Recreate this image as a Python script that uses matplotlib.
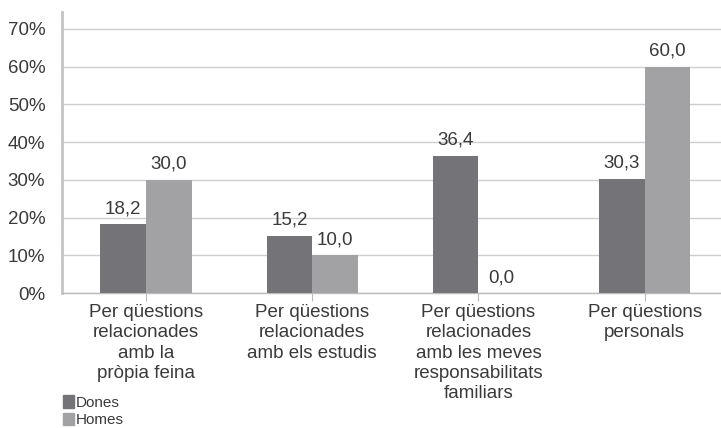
import numpy as np
import matplotlib.pyplot as plt
from matplotlib.patches import Patch

plt.rcParams['font.family'] = ['Liberation Sans', 'DejaVu Sans']

categories = ['Per qüestions\nrelacionades\namb la\npròpia feina',
              'Per qüestions\nrelacionades\namb els estudis',
              'Per qüestions\nrelacionades\namb les meves\nresponsabilitats\nfamiliars',
              'Per qüestions\npersonals']
dones = [18.2, 15.2, 36.4, 30.3]
homes = [30.0, 10.0, 0.0, 60.0]
series_names = ['Dones', 'Homes']
yticks = [0, 10, 20, 30, 40, 50, 60, 70]

col_dones = '#747478'
col_homes = '#a2a2a5'
txt = '#3a3a3a'

fig = plt.figure(figsize=(7.21, 4.28), dpi=100)
ax = fig.add_axes([62 / 721, 135 / 428, 659 / 721, 281 / 428])

x = np.arange(len(categories))
w = 0.275
b1 = ax.bar(x - w / 2, dones, w, color=col_dones, zorder=3)
b2 = ax.bar(x + w / 2, homes, w, color=col_homes, zorder=3)

for bars, vals in [(b1, dones), (b2, homes)]:
    for r, v in zip(bars, vals):
        ax.annotate(f'{v:.1f}'.replace('.', ','),
                    (r.get_x() + r.get_width() / 2, v),
                    xytext=(0, 5), textcoords='offset points',
                    ha='center', va='bottom', fontsize=13.5, color=txt)

ax.set_xlim(-0.506, 3.46)
ax.set_ylim(0, 74.5)
ax.set_yticks(yticks)
ax.set_yticklabels([f'{t}%' for t in yticks], fontsize=13.5, color=txt)
ax.set_xticks(x)
ax.set_xticklabels(categories, fontsize=13.5, color=txt, linespacing=1.25)
ax.tick_params(axis='y', length=0, pad=12)
ax.tick_params(axis='x', length=6, color='#bbbbbb', pad=2)
ax.set_yticks([0], minor=True)
ax.tick_params(axis='y', which='minor', length=10, color='#bbbbbb', width=1)

ax.grid(axis='y', color='#cfcfcf', linewidth=1, zorder=0)
for s in ['top', 'right']:
    ax.spines[s].set_visible(False)
ax.spines['left'].set_color('#c4c4c4')
ax.spines['left'].set_linewidth(2)
ax.spines['bottom'].set_color('#bbbbbb')
ax.spines['bottom'].set_linewidth(1)

handles = [Patch(color=col_dones), Patch(color=col_homes)]
fig.legend(handles, series_names, loc='lower left',
           bbox_to_anchor=(49 / 721, -13 / 428), frameon=False,
           fontsize=11, handlelength=0.75, handleheight=0.85,
           handletextpad=0.1, labelspacing=0.2, labelcolor=txt)

plt.savefig('out.png', dpi=100)
